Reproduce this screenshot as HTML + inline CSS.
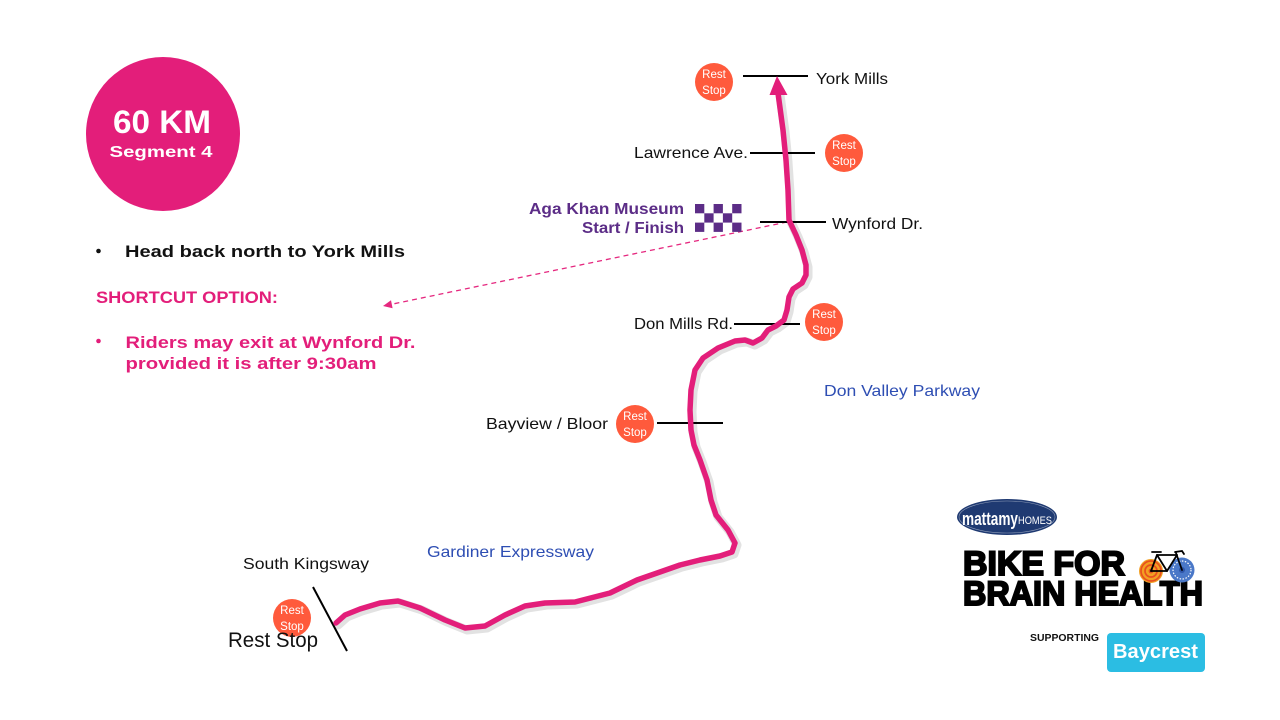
<!DOCTYPE html>
<html>
<head>
<meta charset="utf-8">
<style>
html,body{margin:0;padding:0;background:#fff;}
svg{display:block;}
text{font-family:"Liberation Sans", sans-serif;}
</style>
</head>
<body>
<svg width="1280" height="720" viewBox="0 0 1280 720" xmlns="http://www.w3.org/2000/svg">
<rect width="1280" height="720" fill="#fff"/>

<!-- Big circle -->
<circle cx="163" cy="134" r="77" fill="#E31E7A"/>
<text x="162" y="133" font-size="32" font-weight="bold" fill="#fff" text-anchor="middle" textLength="98" lengthAdjust="spacingAndGlyphs">60 KM</text>
<text x="161" y="157" font-size="16" font-weight="bold" fill="#fff" text-anchor="middle" textLength="103" lengthAdjust="spacingAndGlyphs">Segment 4</text>

<!-- Left text -->
<circle cx="98.5" cy="251" r="2.3" fill="#111"/>
<text x="125" y="257" font-size="17" font-weight="bold" fill="#111" textLength="280" lengthAdjust="spacingAndGlyphs">Head back north to York Mills</text>
<text x="96" y="303" font-size="17" font-weight="bold" fill="#E31E7A" textLength="182" lengthAdjust="spacingAndGlyphs">SHORTCUT OPTION:</text>
<circle cx="98.5" cy="341" r="2.3" fill="#E31E7A"/>
<text x="125.5" y="348" font-size="17" font-weight="bold" fill="#E31E7A" textLength="290" lengthAdjust="spacingAndGlyphs">Riders may exit at Wynford Dr.</text>
<text x="125.5" y="369" font-size="17" font-weight="bold" fill="#E31E7A" textLength="251" lengthAdjust="spacingAndGlyphs">provided it is after 9:30am</text>

<!-- Dashed shortcut line -->
<line x1="787" y1="222" x2="390" y2="304.6" stroke="#E5287F" stroke-width="1.3" stroke-dasharray="5,4"/>
<polygon points="383,306 392.6,308.3 391,300.3" fill="#E5287F"/>

<!-- Route shadow -->
<path d="M778,93 L783,130 L786,160 L788,190 L789,220 L796,235 L802,250 L806,265 L806,275 L802,283 L793,289 L789,297 L787,310 L784,320 L776,326 L768,330 L762,338 L753,343 L745,340 L735,341 L718,348 L703,358 L695,370 L691,390 L690,410 L691,430 L694,445 L700,460 L707,480 L711,500 L716,515 L728,530 L735,543 L732,552 L720,556 L700,560 L680,565 L660,572 L637,580 L610,593 L575,602 L545,603 L525,606 L505,615 L485,626 L465,628 L445,620 L420,608 L398,601 L380,603 L360,609 L345,615 L336,623" fill="none" stroke="#e2e2e2" stroke-width="9" stroke-linejoin="round" stroke-linecap="round" transform="translate(2,2)"/>

<!-- Black road lines -->
<g stroke="#000" stroke-width="2">
<line x1="743" y1="76" x2="808" y2="76"/>
<line x1="750" y1="153" x2="815" y2="153"/>
<line x1="760" y1="222" x2="826" y2="222"/>
<line x1="734" y1="324" x2="800" y2="324"/>
<line x1="657" y1="423" x2="723" y2="423"/>
<line x1="313" y1="587" x2="347" y2="651"/>
</g>

<!-- Route -->
<path d="M778,93 L783,130 L786,160 L788,190 L789,220 L796,235 L802,250 L806,265 L806,275 L802,283 L793,289 L789,297 L787,310 L784,320 L776,326 L768,330 L762,338 L753,343 L745,340 L735,341 L718,348 L703,358 L695,370 L691,390 L690,410 L691,430 L694,445 L700,460 L707,480 L711,500 L716,515 L728,530 L735,543 L732,552 L720,556 L700,560 L680,565 L660,572 L637,580 L610,593 L575,602 L545,603 L525,606 L505,615 L485,626 L465,628 L445,620 L420,608 L398,601 L380,603 L360,609 L345,615 L336,623" fill="none" stroke="#E31E7A" stroke-width="5.5" stroke-linejoin="round" stroke-linecap="round"/>
<polygon points="777,76 769.5,95 787.5,95" fill="#E31E7A"/>

<!-- Rest stop circles -->
<g font-size="11.5" fill="#fff" text-anchor="middle">
<circle cx="714" cy="82" r="19" fill="#FF5A3C"/>
<text x="714" y="78">Rest</text><text x="714" y="94">Stop</text>
<circle cx="844" cy="153" r="19" fill="#FF5A3C"/>
<text x="844" y="149">Rest</text><text x="844" y="165">Stop</text>
<circle cx="824" cy="322" r="19" fill="#FF5A3C"/>
<text x="824" y="318">Rest</text><text x="824" y="334">Stop</text>
<circle cx="635" cy="424" r="19" fill="#FF5A3C"/>
<text x="635" y="420">Rest</text><text x="635" y="436">Stop</text>
<circle cx="292" cy="618" r="19" fill="#FF5A3C"/>
<text x="292" y="614">Rest</text><text x="292" y="630">Stop</text>
</g>

<!-- Road labels -->
<g font-size="16" fill="#111">
<text x="816" y="84" textLength="72" lengthAdjust="spacingAndGlyphs">York Mills</text>
<text x="634" y="158" textLength="114" lengthAdjust="spacingAndGlyphs">Lawrence Ave.</text>
<text x="832" y="229" textLength="91" lengthAdjust="spacingAndGlyphs">Wynford Dr.</text>
<text x="634" y="329" textLength="99" lengthAdjust="spacingAndGlyphs">Don Mills Rd.</text>
<text x="486" y="429" textLength="122" lengthAdjust="spacingAndGlyphs">Bayview / Bloor</text>
<text x="243" y="569" textLength="126" lengthAdjust="spacingAndGlyphs">South Kingsway</text>
</g>
<text x="228" y="647" font-size="21" fill="#111" textLength="90" lengthAdjust="spacingAndGlyphs">Rest Stop</text>
<g font-size="16" fill="#2E4EB3">
<text x="824" y="396" textLength="156" lengthAdjust="spacingAndGlyphs">Don Valley Parkway</text>
<text x="427" y="557" textLength="167" lengthAdjust="spacingAndGlyphs">Gardiner Expressway</text>
</g>

<!-- Aga Khan -->
<g font-size="15.5" font-weight="bold" fill="#5C2D87" text-anchor="end">
<text x="684" y="214" textLength="155" lengthAdjust="spacingAndGlyphs">Aga Khan Museum</text>
<text x="684" y="233" textLength="102" lengthAdjust="spacingAndGlyphs">Start / Finish</text>
</g>
<g fill="#5C2D87">
<rect x="695" y="204" width="9.3" height="9.3"/>
<rect x="713.6" y="204" width="9.3" height="9.3"/>
<rect x="732.2" y="204" width="9.3" height="9.3"/>
<rect x="704.3" y="213.3" width="9.3" height="9.3"/>
<rect x="722.9" y="213.3" width="9.3" height="9.3"/>
<rect x="695" y="222.6" width="9.3" height="9.3"/>
<rect x="713.6" y="222.6" width="9.3" height="9.3"/>
<rect x="732.2" y="222.6" width="9.3" height="9.3"/>
</g>

<!-- Logo: mattamy homes -->
<ellipse cx="1007" cy="517" rx="50" ry="18" fill="#1F3A72"/>
<ellipse cx="1007" cy="517" rx="48" ry="16" fill="none" stroke="#fff" stroke-width="0.6" opacity="0.5"/>
<text x="962" y="525" font-size="18" font-weight="bold" fill="#fff" textLength="56" lengthAdjust="spacingAndGlyphs">mattamy</text>
<text x="1018" y="524" font-size="11" fill="#fff" textLength="34" lengthAdjust="spacingAndGlyphs">HOMES</text>

<!-- BIKE FOR BRAIN HEALTH -->
<text x="963" y="575" font-size="34" font-weight="bold" fill="#000" stroke="#000" stroke-width="2" textLength="162" lengthAdjust="spacingAndGlyphs">BIKE FOR</text>
<text x="963" y="605" font-size="34" font-weight="bold" fill="#000" stroke="#000" stroke-width="2" textLength="240" lengthAdjust="spacingAndGlyphs">BRAIN HEALTH</text>

<!-- bike icon -->
<g>
<circle cx="1151" cy="571" r="12" fill="#F2A023"/>
<circle cx="1151" cy="571" r="10" fill="none" stroke="#E8501F" stroke-width="1.7"/>
<circle cx="1151" cy="571" r="6" fill="none" stroke="#E8501F" stroke-width="1.7"/>
<circle cx="1151" cy="571" r="2.4" fill="#E8501F"/>
<circle cx="1182" cy="570" r="12.5" fill="#4A78C8"/>
<circle cx="1182" cy="570" r="9" fill="none" stroke="#fff" stroke-width="1.2" stroke-dasharray="1.5,1.5"/>
<circle cx="1182" cy="570" r="3" fill="#2E55A8"/>
<g stroke="#000" stroke-width="1.8" fill="none" stroke-linecap="round">
<line x1="1151" y1="571" x2="1157" y2="555"/>
<line x1="1157" y1="555" x2="1177" y2="555"/>
<line x1="1157" y1="555" x2="1167" y2="571"/>
<line x1="1151" y1="571" x2="1167" y2="571"/>
<line x1="1167" y1="571" x2="1177" y2="555"/>
<line x1="1176" y1="553" x2="1182" y2="570"/>
<line x1="1152" y1="552" x2="1161" y2="552"/>
<path d="M1175,552 L1182,551 L1184,554"/>
</g>
</g>

<!-- Supporting Baycrest -->
<text x="1030" y="641" font-size="10" font-weight="bold" fill="#111" textLength="69" lengthAdjust="spacingAndGlyphs">SUPPORTING</text>
<rect x="1107" y="633" width="98" height="39" rx="4" fill="#2BBDE3"/>
<text x="1113" y="658" font-size="20" font-weight="bold" fill="#fff" textLength="85" lengthAdjust="spacingAndGlyphs">Baycrest</text>
</svg>
</body>
</html>
